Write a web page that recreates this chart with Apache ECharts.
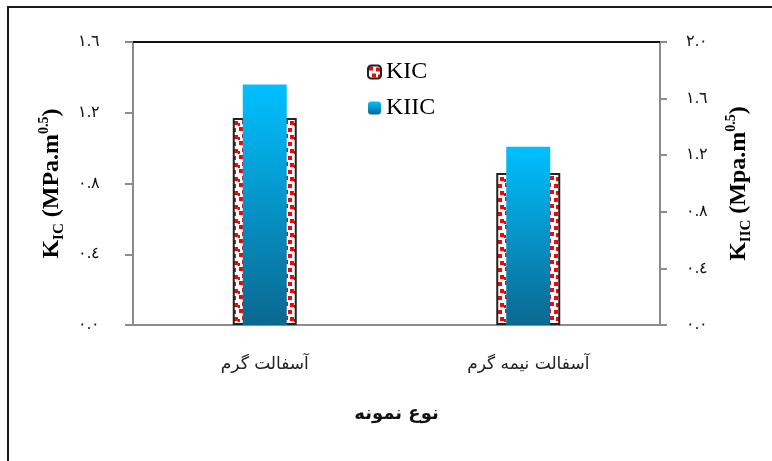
<!DOCTYPE html>
<html>
<head>
<meta charset="utf-8">
<script src="https://cdn.jsdelivr.net/npm/echarts@6/dist/echarts.min.js"></script>
<style>
html,body{margin:0;padding:0;background:#fff;}
#chart{width:772px;height:461px;}
</style>
</head>
<body>
<div id="chart"></div>
<script>
// ---- data ----
var categories = ['آسفالت گرم', 'آسفالت نیمه گرم'];
var kicValues = [1.17, 0.86];
var kiicValues = [1.70, 1.26];
var seriesNames = ['KIC', 'KIIC'];
var xAxisTitle = 'نوع نمونه';

function arabicDigits(v) {
  var s = v.toFixed(1);
  return s.replace(/[0-9]/g, function (d) { return String.fromCharCode(0x0660 + Number(d)); });
}

// confetti pattern for KIC
var pc = document.createElement('canvas');
pc.width = 14; pc.height = 14;
var ctx = pc.getContext('2d');
ctx.fillStyle = '#ffffff';
ctx.fillRect(0, 0, 14, 14);
ctx.fillStyle = '#ff0000';
ctx.fillRect(1, 1, 4, 4);
ctx.fillRect(8, 2, 4, 4);
ctx.fillRect(4, 8, 4, 4);
ctx.fillRect(10, 9, 4, 4);
ctx.fillRect(0, 11, 2, 3);

var chart = echarts.init(document.getElementById('chart'));
var serif = "'Liberation Serif','Times New Roman','DejaVu Serif',serif";
var sans = "'DejaVu Sans','Noto Sans',sans-serif";

var titleRich = {
  b: { fontFamily: serif, fontWeight: 'bold', fontSize: 24, lineHeight: 30, color: '#000' },
  s: { fontFamily: serif, fontWeight: 'bold', fontSize: 15, lineHeight: 15, verticalAlign: 'bottom', color: '#000' },
  p: { fontFamily: serif, fontWeight: 'bold', fontSize: 14, lineHeight: 14, verticalAlign: 'top', color: '#000' }
};

chart.setOption({
  animation: false,
  backgroundColor: '#fff',
  graphic: [{
    type: 'rect', shape: { x: 8, y: 7, width: 900, height: 600 },
    style: { fill: 'none', stroke: '#1a1a1a', lineWidth: 2 }, silent: true
  }],
  grid: { left: 133, right: 112, top: 42, bottom: 136 },
  legend: {
    orient: 'vertical', left: 362, top: 55, itemWidth: 13, itemHeight: 13, itemGap: 12,
    textStyle: { fontFamily: serif, fontSize: 24, color: '#000' },
    data: seriesNames
  },
  xAxis: [{
    type: 'category', data: categories, position: 'bottom',
    axisLine: { onZero: false, lineStyle: { color: '#8c8c8c', width: 2 } },
    axisTick: { show: false },
    axisLabel: { margin: 31, fontFamily: sans, fontSize: 17, color: '#222' },
    name: xAxisTitle, nameLocation: 'middle', nameGap: 80,
    nameTextStyle: { fontFamily: sans, fontWeight: 'bold', fontSize: 18, color: '#111' }
  }, {
    type: 'category', data: categories, position: 'top',
    axisLine: { onZero: false, lineStyle: { color: '#111', width: 2 } },
    axisTick: { show: false }, axisLabel: { show: false }
  }],
  yAxis: [{
    type: 'value', min: 0, max: 1.6, interval: 0.4, position: 'left',
    axisLine: { show: true, onZero: false, lineStyle: { color: '#8c8c8c', width: 2 } },
    axisTick: { show: true, length: 8, lineStyle: { color: '#8c8c8c', width: 2 } },
    splitLine: { show: false },
    axisLabel: { margin: 33, fontFamily: serif, fontSize: 16, color: '#111', formatter: arabicDigits },
    name: '{b|K}{s|IC}{b| (MPa.m}{p|0.5}{b|)}', nameLocation: 'middle', nameGap: 60, nameRotate: 90,
    nameTextStyle: { rich: titleRich }
  }, {
    type: 'value', min: 0, max: 2.0, interval: 0.4, position: 'right',
    axisLine: { show: true, onZero: false, lineStyle: { color: '#8c8c8c', width: 2 } },
    axisTick: { show: true, length: 7, lineStyle: { color: '#8c8c8c', width: 2 } },
    splitLine: { show: false },
    axisLabel: { margin: 26, fontFamily: serif, fontSize: 16, color: '#111', formatter: arabicDigits },
    name: '{b|K}{s|IIC}{b| (Mpa.m}{p|0.5}{b|)}', nameLocation: 'middle', nameGap: 64, nameRotate: 90,
    nameTextStyle: { rich: titleRich }
  }],
  series: [{
    name: seriesNames[0], type: 'bar', xAxisIndex: 0, yAxisIndex: 0, data: kicValues,
    barWidth: 64,
    itemStyle: { color: { image: pc, repeat: 'repeat' }, borderColor: '#222', borderWidth: 2 }
  }, {
    name: seriesNames[1], type: 'bar', xAxisIndex: 1, yAxisIndex: 1, data: kiicValues,
    barWidth: 44, z: 3,
    itemStyle: {
      color: new echarts.graphic.LinearGradient(0, 0, 0, 1, [
        { offset: 0, color: '#00c0ff' },
        { offset: 1, color: '#0b6890' }
      ])
    }
  }]
});
</script>
</body>
</html>
